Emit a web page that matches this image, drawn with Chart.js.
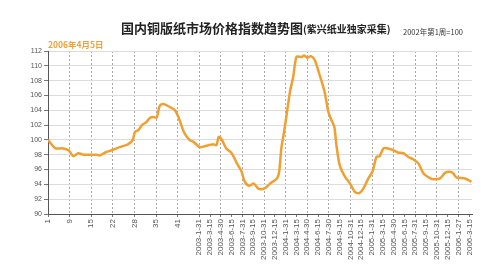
<!DOCTYPE html>
<html>
<head>
<meta charset="utf-8">
<script src="https://cdn.jsdelivr.net/npm/chart.js"></script>
<style>
  body { margin: 0; background: #fff; }
  #wrap { position: relative; width: 500px; height: 266px; }
  canvas { position: absolute; left: 0; top: 0; }
  .t { position: absolute; white-space: nowrap; font-family: "Noto Sans CJK SC", sans-serif; }
</style>
</head>
<body>
<div id="wrap">
  <canvas id="c" width="500" height="266"></canvas>
  <div class="t" style="left:121px; top:18px; font-size:13px; font-weight:bold; color:#222;">国内铜版纸市场价格指数趋势图<span style="font-size:10px;">(紫兴纸业独家采集)</span></div>
  <div class="t" style="left:403px; top:26px; font-size:7.5px; color:#333;">2002年第1周=100</div>
  <div class="t" style="left:48px; top:38px; font-size:8.5px; font-weight:bold; color:#EBA23A;">2006年4月5日</div>
</div>
<script>
// x axis labels and where they sit along the period axis
const tickLabels = ["1", "9", "15", "22", "28", "35", "41",
  "2003-1-31", "2003-3-15", "2003-4-30", "2003-6-15", "2003-7-31", "2003-9-15",
  "2003-10-31", "2003-12-15", "2004-1-31", "2004-3-15", "2004-4-30", "2004-6-15",
  "2004-7-30", "2004-9-15", "2004-10-31", "2004-12-15", "2005-1-31", "2005-3-15",
  "2005-4-30", "2005-6-15", "2005-7-31", "2005-9-15", "2005-10-31", "2005-12-15",
  "2006-1-27", "2006-3-15"];
const tickPos = [0, 2, 4, 6, 8, 10, 12,
  14, 15, 16, 17, 18, 19, 20, 21, 22, 23, 24, 25, 26, 27, 28, 29, 30, 31, 32,
  33, 34, 35, 36, 37, 38, 39];

// index series
const period = [0, 0.65, 1.4, 1.9, 2.35, 2.8, 3.3, 4.5, 4.8, 5.3, 5.9, 6.7, 7.4, 7.85,
  8.05, 8.36, 8.7, 9.1, 9.45, 9.75, 10.06, 10.3, 10.5, 10.8, 11.45, 11.75, 12.1, 12.6,
  13.1, 13.5, 14.07, 14.5, 15.3, 15.6, 15.8, 16.08, 16.5, 17.0, 17.5, 17.9, 18.2, 18.6,
  19.05, 19.5, 20.1, 20.55, 21.2, 21.4, 21.6, 21.9, 22.4, 22.7, 23.0, 23.5, 23.7, 24.0,
  24.35, 24.7, 25.2, 25.6, 25.95, 26.2, 26.5, 26.7, 27.0, 27.5, 27.96, 28.4, 28.8, 29.2,
  29.66, 30.06, 30.4, 30.7, 31.05, 31.5, 31.97, 32.4, 32.9, 33.36, 33.8, 34.3, 34.75,
  35.4, 35.7, 36.3, 36.75, 37.2, 37.5, 37.8, 38.6, 39.2];
const index = [100.0, 98.9, 98.85, 98.6, 97.8, 98.2, 98.0, 98.0, 97.9, 98.3, 98.6, 99.05, 99.4, 100.0,
  101.1, 101.3, 102.0, 102.4, 103.0, 103.1, 103.0, 104.45, 104.8, 104.8, 104.3, 104.0, 103.0, 101.0,
  100.0, 99.7, 99.0, 99.15, 99.4, 99.3, 100.4, 100.05, 98.85, 98.2, 96.8, 95.8, 94.4, 93.8,
  94.1, 93.4, 93.5, 94.1, 94.8, 95.7, 98.85, 101.5, 106.5, 108.5, 111.2, 111.2, 111.4, 111.1,
  111.3, 110.75, 108.5, 106.5, 103.8, 102.8, 101.8, 99.3, 96.6, 95.0, 94.1, 93.0, 92.8, 93.45,
  94.8, 95.8, 97.7, 97.8, 98.85, 98.85, 98.6, 98.3, 98.2, 97.7, 97.4, 96.8, 95.5,
  94.8, 94.7, 94.8, 95.55, 95.7, 95.5, 94.95, 94.8, 94.35];

const ctx = document.getElementById("c").getContext("2d");
new Chart(ctx, {
  type: "line",
  data: {
    datasets: [{
      data: period.map((p, i) => ({ x: p, y: index[i] })),
      borderColor: "#F0A030",
      borderWidth: 2.5,
      pointRadius: 0,
      tension: 0.25,
      fill: false
    }]
  },
  options: {
    responsive: false,
    animation: false,
    layout: { padding: { left: 0, right: 28, top: 51, bottom: 0 } },
    plugins: { legend: { display: false }, tooltip: { enabled: false } },
    scales: {
      x: {
        type: "linear",
        min: 0,
        max: 39.25,
        afterBuildTicks: s => { s.ticks = tickPos.map(v => ({ value: v })); },
        afterFit: s => { s.height = 52; },
        ticks: {
          autoSkip: false,
          minRotation: 90,
          maxRotation: 90,
          padding: 2,
          color: "#555",
          font: { family: "Liberation Sans", size: 8 },
          callback: (v, i) => tickLabels[i]
        },
        grid: {
          color: c => (c.tick && c.tick.value > 0 && c.tick.value % 2 === 0) ? "#aaa" : "rgba(0,0,0,0)",
          tickColor: "#777",
          tickLength: 3
        },
        border: { color: "#555", dash: [2, 2] }
      },
      y: {
        min: 90,
        max: 112,
        afterFit: s => { s.width = 48; },
        ticks: {
          stepSize: 2,
          padding: 2,
          color: "#555",
          font: { family: "Liberation Sans", size: 7 }
        },
        grid: { color: "#dcdcdc", tickColor: "#777", tickLength: 4 },
        border: { color: "#555" }
      }
    }
  }
});
</script>
</body>
</html>
